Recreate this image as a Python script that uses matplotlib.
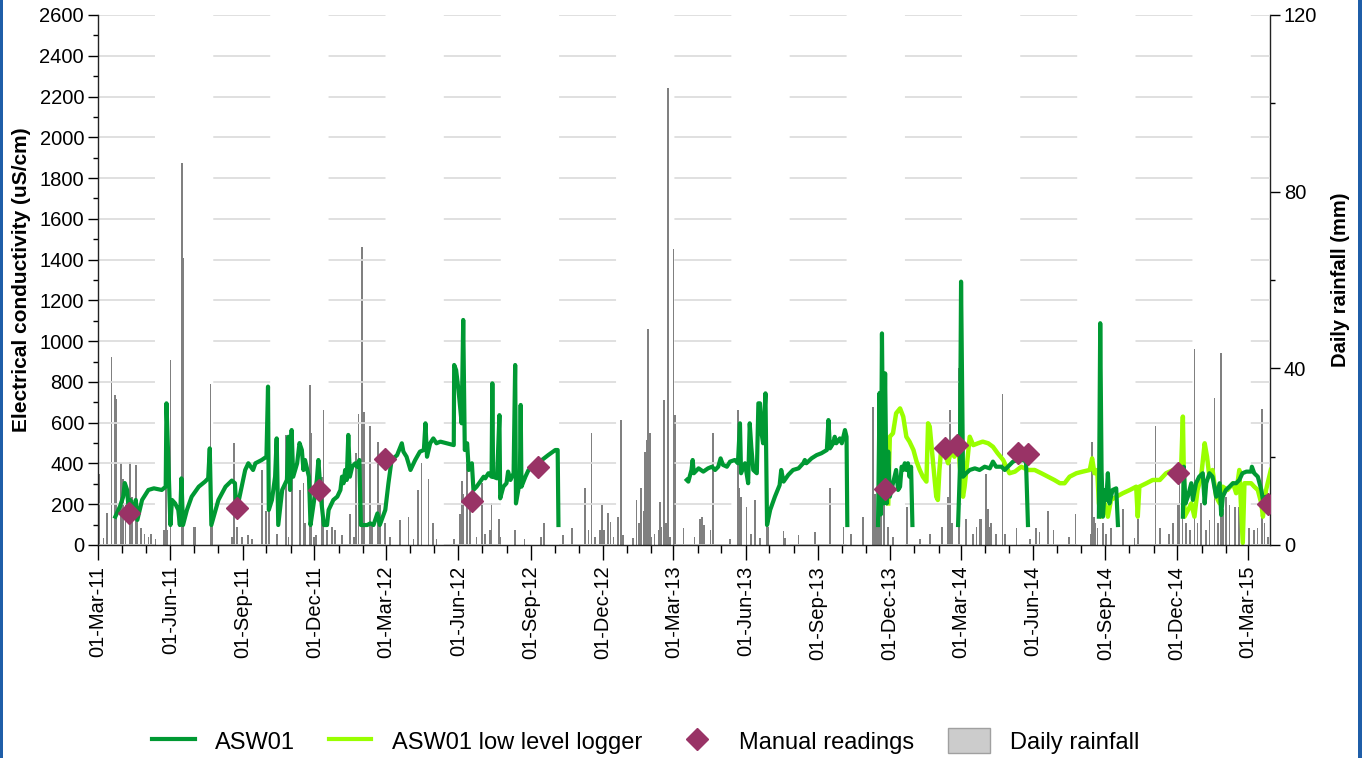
import numpy as np
import matplotlib
matplotlib.use("Agg")
import matplotlib.pyplot as plt
import matplotlib.dates as mdates
from matplotlib.lines import Line2D
from matplotlib.patches import Patch, Rectangle
from matplotlib.ticker import MultipleLocator

plt.rcParams['font.family'] = ['Liberation Sans', 'DejaVu Sans']
plt.rcParams['lines.scale_dashes'] = False

# --- data: day offsets from 01-Mar-2011 ---
START = '2011-03-01'

# ASW01 logger (uS/cm); nan marks a gap in the record
asw_day = [22, 28, 32, 34, 37, 39, 41, 43, 45, 48, 50, 56, 64, 71, 81, 86, 87, 92, 94, 98,
           102, 104, 106, 108, 113, 119, 128, 136, 140, 142, 144, 153, 162, 170, 174, 176, 179,
           187, 191, 197, 200, 208, 214, 216, 217, 221, 225, 227, 229, 234, 240, 242, 244, 246,
           248, 253, 256, 259, 261, 263, 265, 268, 270, 274, 278, 280, 282, 284, 287, 291, 293,
           299, 304, 308, 310, 312, 314, 316, 318, 320, 323, 327, 329, 332, 334, 342, 346, 350,
           355, 358, 365, 369, 373, 380, 386, 388, 392, 397, 403, 409, 414, 416, 418, 422, 426,
           430, 435, 443, 452, 452.5, 455, 458, 462, 464, 466, 469, 471, 475, 477, 481, 490,
           492, 496, 500, 501, 502, 507, 510, 511, 515, 519, 521, 524, 528, 530, 531, 534, 536,
           537, 538, 543, 547, 551, 557, 564, 572, 581, 584, 585,
           660,
           748, 750, 754, 755.5, 757, 763, 769, 775, 780, 784, 788, 791, 794, 799, 803, 809, 813,
           815.6, 817, 822, 826, 828, 830, 832.5, 837, 839, 841, 843, 845, 848, 850, 854, 860,
           866, 868, 871, 877, 883, 890, 896, 898, 900, 906.5, 913, 919, 926, 928, 930, 934,
           936, 938, 942.5, 945, 949, 951, 952,
           970,
           991, 993, 994.5, 996, 998, 1000, 1002, 1004, 1006, 1010, 1012, 1014, 1016.5, 1019,
           1021, 1023, 1025, 1027, 1029, 1031, 1033, 1034.7,
           1060,
           1092.7, 1095, 1096.5, 1099, 1103, 1107.5, 1114, 1120, 1126.5, 1133, 1137, 1141, 1148,
           1152, 1156, 1162.5, 1169, 1175, 1179, 1181.5,
           1220,
           1271.6, 1273.3, 1275, 1276.7, 1279, 1281, 1283, 1285, 1289, 1293.6, 1295.8,
           1330,
           1378.3, 1379.5, 1381.6, 1384.6, 1389, 1391, 1395, 1399, 1403.6, 1406, 1408, 1412,
           1416, 1420.6, 1425, 1427, 1429, 1433, 1437.5, 1442, 1446, 1450, 1454, 1459, 1465,
           1466, 1469, 1473.5, 1478, 1480, 1484, 1486]
asw_ec = [139, 190, 237, 304, 270, 172, 221, 200, 131, 221, 123, 221, 270, 278, 270, 286, 695, 98,
          221, 204, 172, 98, 327, 98, 172, 237, 286, 311, 327, 474, 98, 221, 286, 316, 303, 147,
          221, 368, 401, 368, 401, 417, 433, 777, 172, 221, 335, 523, 98, 270, 319, 531, 270, 564,
          335, 401, 500, 466, 368, 417, 384, 335, 98, 204, 319, 417, 303, 204, 98, 98, 172, 221,
          237, 270, 335, 303, 368, 319, 540, 335, 384, 401, 384, 417, 98, 98, 106, 98, 155, 98,
          172, 303, 417, 441, 499, 458, 433, 368, 417, 458, 466, 597, 433, 499, 523, 499, 507,
          499, 490, 883, 858, 760, 597, 1104, 466, 499, 368, 401, 270, 286, 335,
          327, 352, 335, 793, 335, 327, 637, 229, 286, 303, 360, 319, 352, 883, 204, 270, 335,
          687, 286, 335, 368, 376, 384, 417, 441, 466, 466, 98,
          np.nan,
          319, 311, 368, 417, 352, 376, 360, 376, 384, 368, 384, 425, 393, 384, 409, 417, 401,
          597, 352, 401, 303, 597, 482, 368, 352, 695, 695, 548, 499, 744, 98, 172, 237, 294,
          368, 311, 344, 368, 376, 401, 417, 401, 425, 441, 450, 466, 613, 474, 499, 531, 499,
          523, 499, 564, 531, 98,
          np.nan,
          98, 746, 150, 1038, 204, 842, 204, 458, 237, 303, 335, 368, 270, 286, 384, 368, 401,
          368, 401, 335, 384, 98,
          np.nan,
          98, 368, 1292, 335, 352, 368, 376, 368, 384, 376, 409, 384, 384, 368, 384, 409, 417,
          417, 409, 98,
          np.nan,
          139, 1088, 368, 139, 270, 221, 352, 204, 270, 278, 98,
          np.nan,
          139, 384, 204, 237, 303, 221, 303, 335, 352, 204, 303, 352, 335, 237, 303, 147, 237,
          270, 286, 303, 303, 319, 352, 360, 360, 384, 352, 335, 270, 221, 237, 204]

# ASW01 low level logger (uS/cm)
low_day = [1004, 1006, 1010, 1014, 1019, 1023, 1027, 1031, 1036, 1040, 1044, 1048, 1052.5,
           1054.6, 1056.7, 1061, 1065, 1067, 1069, 1071.5, 1076, 1080, 1084, 1088, 1092.7, 1096,
           1099, 1101, 1105, 1107.5, 1112, 1118, 1124, 1131, 1137, 1143, 1150, 1154, 1158, 1165,
           1173, 1181.5, 1190, 1198.5, 1207, 1215, 1222, 1228, 1234.4, 1243, 1251, 1260, 1263,
           1266, 1269.5, 1271.6, 1274.6, 1279, 1283, 1287, 1294, 1302, 1311, 1319, 1321, 1323,
           1332, 1340, 1349, 1357, 1366, 1372, 1376, 1378.3, 1380.4, 1385, 1389, 1393, 1397,
           1401.5, 1406, 1409, 1412, 1416, 1420.6, 1425, 1429, 1435, 1442, 1446, 1450, 1454.4,
           1456.5, 1461, 1465, 1469, 1473.5, 1478, 1480, 1484, 1488, 1490]
low_ec = [204, 531, 548, 646, 670, 630, 531, 507, 466, 409, 368, 335, 311, 597, 581, 401, 237,
          221, 368, 482, 450, 401, 466, 433, 499, 335, 237, 286, 433, 531, 490, 499, 507, 499,
          482, 450, 417, 384, 352, 360, 384, 368, 368, 352, 335, 319, 303, 303, 335, 352, 360,
          368, 425, 352, 368, 204, 139, 204, 139, 221, 237, 254, 270, 286, 139, 286, 303, 319,
          319, 352, 368, 335, 368, 630, 139, 172, 204, 139, 270, 335, 499, 433, 335, 368, 237,
          204, 286, 270, 303, 254, 368, 10, 303, 303, 303, 286, 270, 204, 139, 270, 335, 368]

# manual readings (uS/cm)
man_day = [39, 177, 281, 365, 475, 559, 1000, 1076, 1091, 1169, 1181, 1372, 1487]
man_ec = [158, 180, 272, 422, 218, 384, 277, 474, 491, 450, 446, 355, 201]

# daily rainfall (mm)
rain_day = [2, 7, 11, 17, 22, 23.5, 29, 32, 35, 41, 43, 48, 50, 55, 59, 64, 67, 73, 84, 86, 88,
            92, 106, 107, 108, 122, 124, 143, 145, 170, 173, 177, 183, 191, 196, 208, 213, 217,
            227, 239, 242, 246.5, 257, 261, 263, 269, 271, 274, 277, 284.5, 286.6, 291, 297,
            301, 310, 320.5, 325, 327.7, 331, 335, 336, 338, 346, 348, 356, 358, 365, 371, 384,
            394.5, 401, 407, 411, 420, 426, 430, 452, 460, 462, 464, 468.6, 473, 481, 488, 492,
            498, 500, 509, 511, 530, 542, 563, 567, 590.5, 602, 619, 623, 627, 631, 638, 640,
            643, 648, 651, 655, 661, 664.5, 667, 680, 684, 687, 690, 693, 695, 697, 699, 701,
            703, 707, 712, 714, 716, 719.5, 722, 724.6, 727, 731, 733, 744, 758, 765, 767, 770,
            778, 781, 803, 813, 815, 817, 824, 830, 834.6, 841, 850, 852, 871, 873, 890, 911,
            930, 947, 957, 972, 985, 987, 989, 991, 993, 995, 999, 1004, 1010, 1028, 1044, 1057,
            1072, 1080, 1082, 1085, 1093.5, 1103, 1112, 1116, 1120, 1122, 1128.6, 1131, 1133,
            1135, 1141, 1149, 1152, 1167, 1184, 1192, 1196, 1207, 1214, 1234, 1242, 1261, 1263,
            1265, 1267, 1270, 1277, 1281, 1287, 1302, 1317, 1321, 1343.6, 1349, 1361, 1366,
            1372, 1374, 1378, 1382, 1387, 1393, 1397, 1401, 1408, 1412, 1418.5, 1423, 1427,
            1429, 1433, 1437.5, 1444.7, 1450, 1454, 1462, 1469, 1473, 1479, 1482, 1486]
rain_mm = [16.1, 1.5, 7.3, 42.5, 34, 33, 18.6, 15, 9.4, 18.9, 10.9, 18.2, 9.4, 3.8, 2.6, 1.9,
           2.6, 1.3, 3.4, 25.3, 3.4, 42, 33.2, 86.5, 65, 4.1, 4.1, 36.5, 8.1, 1.9, 23.2, 4.1,
           1.9, 2.3, 1.3, 16.9, 7.8, 15.5, 2.6, 24.8, 1.9, 26, 12.5, 14, 4.9, 36.2, 25.3, 1.9,
           2.3, 15.5, 30.5, 3.4, 4.1, 3.4, 2.3, 7.1, 1.9, 20.8, 29.7, 67.5, 64, 30.1, 27, 4.9,
           23.4, 9.4, 4.9, 1.9, 5.6, 6.3, 1.3, 12.5, 18.5, 15, 4.9, 1.3, 1.3, 7.1, 14.6, 11.5,
           22.6, 9.4, 1.9, 14, 2.6, 3.4, 9.4, 5.9, 1.9, 3.4, 1.3, 1.9, 4.9, 2.3, 3.8, 13, 3.4,
           25.4, 1.9, 3.4, 9.1, 3.4, 7.3, 5.3, 1.9, 6.3, 28.4, 2.3, 1.5, 10.2, 4.9, 13, 7.8,
           21.1, 23.7, 48.8, 25.3, 1.9, 2.6, 3.4, 9.8, 4.1, 32.8, 4.9, 103.5, 1.9, 67, 29.4,
           3.8, 1.9, 5.9, 6.3, 4.5, 3.5, 25.3, 1.3, 30.5, 13, 10.9, 8.7, 2.6, 10.2, 1.5, 16.1,
           4.1, 3.2, 1.5, 2.3, 3, 12.8, 4.1, 2.6, 6.3, 31.2, 11.5, 4.1, 18.1, 10.9, 18.5, 9.4,
           4.1, 1.9, 8.7, 1.3, 2.6, 4.1, 10.9, 30.5, 4.9, 40, 5.9, 2.6, 4.1, 5.9, 5.9, 16.1,
           8.1, 4.1, 4.9, 2.6, 34.3, 2.6, 3.8, 1.3, 3.8, 3, 7.8, 3.4, 1.9, 7.1, 2.6, 23.4, 6.3,
           4.9, 3.8, 4.9, 2.6, 3.8, 8.1, 1.5, 5.9, 27, 3.8, 2.6, 4.9, 9.1, 16.6, 29.4, 4.9, 3.4,
           44.3, 4.9, 9.4, 3.4, 5.6, 33.2, 4.9, 43.4, 8.1, 10.9, 9.1, 8.7, 8.7, 2.6, 3.8, 3.4,
           3.8, 30.7, 4.9, 1.9]

DARK = '#009933'
LIGHT = '#99FF00'
PLUM = '#993366'
t0 = mdates.datestr2num(START)

fig = plt.figure(figsize=(13.62, 7.58), dpi=100)
ax = fig.add_axes([98 / 1362, 1 - 545 / 758, (1270 - 98) / 1362, (545 - 15) / 758])
ax2 = ax.twinx()
ax.set_zorder(ax2.get_zorder() + 1)
ax.patch.set_visible(False)

# rainfall on the right axis, behind everything
ax2.bar(t0 + np.array(rain_day), rain_mm, width=2.2, color='#808080', linewidth=0)

# conductivity on the left axis
ax.plot(t0 + np.array(low_day), low_ec, color=LIGHT, lw=3.2, solid_joinstyle='round')
ax.plot(t0 + np.array(asw_day), asw_ec, color=DARK, lw=3.0, solid_joinstyle='round')
ax.plot(t0 + np.array(man_day), man_ec, ls='none', marker='D', ms=11, color=PLUM, mec=PLUM)

ax.set_xlim(t0, t0 + 1489)
ax.set_ylim(0, 2600)
ax2.set_ylim(0, 120)

ax.yaxis.set_major_locator(MultipleLocator(200))
ax.yaxis.set_minor_locator(MultipleLocator(100))
ax2.yaxis.set_major_locator(MultipleLocator(40))
ax2.yaxis.set_minor_locator(MultipleLocator(20))
ax.xaxis.set_major_locator(mdates.MonthLocator(bymonth=[3, 6, 9, 12]))
ax.xaxis.set_minor_locator(mdates.MonthLocator())
ax.xaxis.set_major_formatter(mdates.DateFormatter('%d-%b-%y'))

ax.grid(axis='y', which='major', color='#dddddd', lw=1.3, linestyle=(0, (41, 42)))
ax.set_axisbelow(True)

for s in ['top', 'right']:
    ax.spines[s].set_visible(False)
for s in ['top', 'left', 'bottom']:
    ax2.spines[s].set_visible(False)
for a in (ax, ax2):
    for s in a.spines.values():
        s.set_color('#222222')
        s.set_linewidth(1.0)

ax.tick_params(axis='y', which='major', length=7, width=1, labelsize=14.5, pad=3)
ax.tick_params(axis='y', which='minor', length=3.5, width=1)
ax2.tick_params(axis='y', which='major', length=7, width=1, labelsize=14.5, pad=3)
ax2.tick_params(axis='y', which='minor', length=3.5, width=1)
ax.tick_params(axis='x', which='major', length=11, width=1, labelsize=14.5, pad=4,
               labelrotation=90)
ax.tick_params(axis='x', which='minor', length=6, width=1)

ax.set_ylabel('Electrical conductivity (uS/cm)', fontsize=15, fontweight='bold', labelpad=6)
ax2.set_ylabel('Daily rainfall (mm)', fontsize=14.5, fontweight='bold', labelpad=10)

handles = [Line2D([], [], color=DARK, lw=3),
           Line2D([], [], color=LIGHT, lw=3),
           Line2D([], [], ls='none', marker='D', ms=11, color=PLUM),
           Patch(facecolor='#cccccc', edgecolor='#a0a0a0')]
labels = ['ASW01', 'ASW01 low level logger', 'Manual readings', 'Daily rainfall']
fig.legend(handles, labels, loc='center', bbox_to_anchor=(646 / 1362, 1 - 741 / 758),
           ncol=4, frameon=False, fontsize=17, handlelength=1.8, handletextpad=0.85,
           columnspacing=1.45, handleheight=1.2)

# blue frame edges
fig.add_artist(Rectangle((0, 0), 3 / 1362, 1, transform=fig.transFigure,
                         color='#1F5EA8', lw=0))
fig.add_artist(Rectangle((1 - 4 / 1362, 0), 4 / 1362, 1, transform=fig.transFigure,
                         color='#1F5EA8', lw=0))

fig.savefig('out.png', dpi=100)
